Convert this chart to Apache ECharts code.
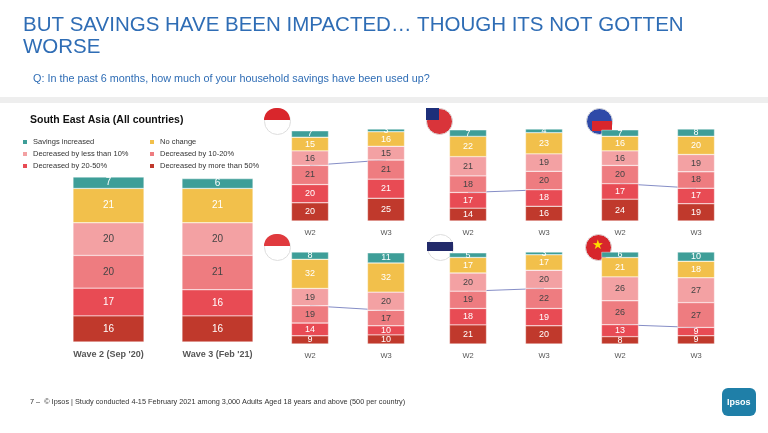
<!DOCTYPE html>
<html>
<head>
<meta charset="utf-8">
<title>Savings impacted</title>
<script src="https://cdn.jsdelivr.net/npm/echarts@6/dist/echarts.min.js"></script>
<style>body{margin:0;background:#fff}#c{width:768px;height:433px}</style>
</head>
<body>
<div id="c"></div>
<script>
var seriesNames = ['Savings increased', 'No change', 'Decreased by less than 10%', 'Decreased by 10-20%', 'Decreased by 20-50%', 'Decreased by more than 50%'];
var colors = ['#3e9e98', '#f2c04b', '#f3a1a3', '#ee7c80', '#e84b54', '#c0392c'];
// stacked bottom -> top order
var stackOrder = [5, 4, 3, 2, 1, 0];

var seaWaves = ['Wave 2 (Sep \'20)', 'Wave 3 (Feb \'21)'];
// values per wave, in seriesNames order
var seaW2 = [7, 21, 20, 20, 17, 16];
var seaW3 = [6, 21, 20, 21, 16, 16];

var waves = ['W2', 'W3'];
var countries = ['Indonesia', 'Malaysia', 'Philippines', 'Singapore', 'Thailand', 'Vietnam'];
var countryW2 = [
  [7, 15, 16, 21, 20, 20],
  [7, 22, 21, 18, 17, 14],
  [7, 16, 16, 20, 17, 24],
  [8, 32, 19, 19, 14, 9],
  [5, 17, 20, 19, 18, 21],
  [6, 21, 26, 26, 13, 8]
];
var countryW3 = [
  [3, 16, 15, 21, 21, 25],
  [4, 23, 19, 20, 18, 16],
  [8, 20, 19, 18, 17, 19],
  [11, 32, 20, 17, 10, 10],
  [3, 17, 20, 22, 19, 20],
  [10, 18, 27, 27, 9, 9]
];
// connector line heights (cumulative from bottom)
var connW2 = [61, 31, 41, 42, 58, 21];
var connW3 = [67, 34, 36, 37, 61, 18];

var chart = echarts.init(document.getElementById('c'));

var grids = [], xAxes = [], yAxes = [], series = [];
function addPanel(cats, w2, w3, left, top, width, height, barW, fs, labelFs, conn) {
  var gi = grids.length;
  grids.push({left: left, top: top, width: width, height: height});
  xAxes.push({type: 'category', gridIndex: gi, data: cats, axisLine: {show: false}, axisTick: {show: false},
    axisLabel: {color: '#555', fontSize: labelFs, fontWeight: labelFs > 8 ? 'bold' : 'normal', margin: 8}});
  var tot = Math.max(w2.reduce(function(a, b){return a + b;}, 0), w3.reduce(function(a, b){return a + b;}, 0));
  yAxes.push({type: 'value', gridIndex: gi, min: 0, max: tot, show: false});
  stackOrder.forEach(function (k) {
    series.push({
      name: seriesNames[k], type: 'bar', stack: 's' + gi, xAxisIndex: gi, yAxisIndex: gi,
      barWidth: barW, data: [w2[k], w3[k]],
      itemStyle: {color: colors[k], borderColor: '#fff', borderWidth: 0.4},
      label: {show: true, color: (k === 2 || k === 3) ? '#444' : '#fff', fontSize: fs,
        fontFamily: 'Arial'}
    });
  });
  if (conn) {
    series.push({type: 'line', xAxisIndex: gi, yAxisIndex: gi, data: conn, symbol: 'none', z: 1,
      lineStyle: {color: '#6670b8', width: 0.8}, silent: true});
  }
}

addPanel(seaWaves, seaW2, seaW3, 54, 177, 218, 165, 71, 10, 9, null);
var colX = [272, 430, 582];
var rowY = [129, 252];
countries.forEach(function (c, i) {
  addPanel(waves, countryW2[i], countryW3[i], colX[i % 3], rowY[Math.floor(i / 3)], 152, 92, 37, 9, 7.5,
    [connW2[i], connW3[i]]);
});

chart.setOption({
  animation: false,
  textStyle: {fontFamily: 'Arial, Liberation Sans'},
  grid: grids, xAxis: xAxes, yAxis: yAxes, series: series,
  legend: [
    {left: 16, top: 133, orient: 'vertical', itemWidth: 6, itemHeight: 6, itemGap: 4, icon: 'rect',
      data: [seriesNames[0], seriesNames[2], seriesNames[4]], textStyle: {fontSize: 7.5, color: '#333'}},
    {left: 143, top: 133, orient: 'vertical', itemWidth: 6, itemHeight: 6, itemGap: 4, icon: 'rect',
      data: [seriesNames[1], seriesNames[3], seriesNames[5]], textStyle: {fontSize: 7.5, color: '#333'}}
  ],
  graphic: [
    {type: 'text', left: 23, top: 14, style: {text: 'BUT SAVINGS HAVE BEEN IMPACTED… THOUGH ITS NOT GOTTEN\nWORSE', fill: '#2f6db5', font: '20.5px Arial', lineHeight: 22}},
    {type: 'text', left: 33, top: 74, style: {text: 'Q: In the past 6 months, how much of your household savings have been used up?', fill: '#2f6db5', font: '10.8px Arial'}},
    {type: 'rect', left: 0, top: 97, shape: {width: 768, height: 6}, style: {fill: '#eeeeee'}},
    {type: 'text', left: 30, top: 115, style: {text: 'South East Asia (All countries)', fill: '#111', font: 'bold 10.5px Arial'}},
    {type: 'text', left: 30, top: 398, style: {text: '7 –  © Ipsos | Study conducted 4-15 February 2021 among 3,000 Adults Aged 18 years and above (500 per country)', fill: '#333', font: '7.3px Arial'}},
    {type: 'rect', left: 722, top: 388, shape: {width: 34, height: 28, r: 6}, style: {fill: '#1f7fa8'}},
    {type: 'text', left: 727, top: 398, style: {text: 'Ipsos', fill: '#fff', font: 'bold 9px Arial'}},
    // flag badges
    {type: 'circle', left: 264, top: 108, shape: {r: 13}, style: {fill: '#fff', stroke: '#ddd'}},
    {type: 'rect', left: 264, top: 108, shape: {width: 26, height: 12, r: [13, 13, 0, 0]}, style: {fill: '#d9262c'}},
    {type: 'circle', left: 426, top: 108, shape: {r: 13}, style: {fill: '#d9343a', stroke: '#ddd'}},
    {type: 'rect', left: 426, top: 108, shape: {width: 13, height: 12}, style: {fill: '#1d2f7a'}},
    {type: 'circle', left: 586, top: 108, shape: {r: 13}, style: {fill: '#2f4aa8', stroke: '#ddd'}},
    {type: 'rect', left: 592, top: 121, shape: {width: 20, height: 10}, style: {fill: '#d9262c'}},
    {type: 'circle', left: 264, top: 234, shape: {r: 13}, style: {fill: '#fff', stroke: '#ddd'}},
    {type: 'rect', left: 264, top: 234, shape: {width: 26, height: 12, r: [13, 13, 0, 0]}, style: {fill: '#e03a3e'}},
    {type: 'circle', left: 427, top: 234, shape: {r: 13}, style: {fill: '#fff', stroke: '#ddd'}},
    {type: 'rect', left: 427, top: 242, shape: {width: 26, height: 9}, style: {fill: '#222a6a'}},
    {type: 'circle', left: 585, top: 234, shape: {r: 13}, style: {fill: '#d7262c', stroke: '#ddd'}},
    {type: 'text', left: 592, top: 239, style: {text: '★', fill: '#ffde00', font: '13px DejaVu Sans'}}
  ]
});
</script>
</body>
</html>
